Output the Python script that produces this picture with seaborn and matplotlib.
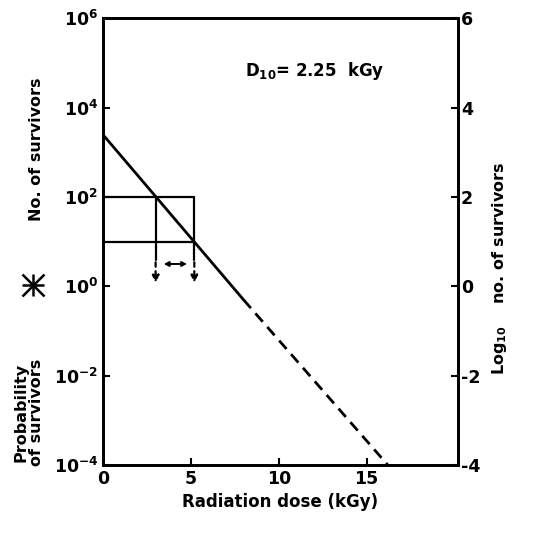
import numpy as np
import pandas as pd
import matplotlib
matplotlib.use("Agg")
import matplotlib.pyplot as plt
import seaborn as sns

# survival curve
dose_solid = [0.0, 8.0]
surv_solid = [2500.0, 0.5]
dose_dash = [8.0, 16.2]
surv_dash = [0.5, 1e-4]

# D10 construction (box + arrows)
box_doses = [3.0, 5.2]
box_levels = [100.0, 10.0]

x_ticks = [0, 5, 10, 15]
y_ticks = [1e-4, 1e-2, 1e0, 1e2, 1e4, 1e6]
y_ticklabels = ["$10^{-4}$", "$10^{-2}$", "$10^{0}$", "$10^{2}$", "$10^{4}$", "$10^{6}$"]
r_ticks = [-4, -2, 0, 2, 4, 6]
r_ticklabels = ["-4", "-2", "0", "2", "4", "6"]

sns.set_style("ticks")
plt.rcParams["font.family"] = ["DejaVu Sans"]
plt.rcParams["font.weight"] = "bold"
plt.rcParams["mathtext.default"] = "bf"
plt.rcParams["text.color"] = "black"
plt.rcParams["axes.labelcolor"] = "black"
plt.rcParams["axes.edgecolor"] = "black"
plt.rcParams["xtick.color"] = "black"
plt.rcParams["ytick.color"] = "black"

solid = pd.DataFrame({"dose": dose_solid, "surv": surv_solid})
dash = pd.DataFrame({"dose": dose_dash, "surv": surv_dash})

fig = plt.figure(figsize=(5.5, 5.37), dpi=100)
ax = fig.add_axes([0.187, 0.134, 0.646, 0.832])

sns.lineplot(data=solid, x="dose", y="surv", color="black", lw=2, ax=ax)
sns.lineplot(data=dash, x="dose", y="surv", color="black", lw=2, ax=ax)
ax.lines[-1].set_linestyle((0, (4, 2.5)))

ax.set_yscale("log")
ax.set_xlim(0, 20.2)
ax.set_ylim(1e-4, 1e6)

# box
for lvl in box_levels:
    ax.plot([0, box_doses[1]], [lvl, lvl], color="black", lw=1.6)
for d in box_doses:
    ax.plot([d, d], [box_levels[0], 10 ** 0.6], color="black", lw=1.6)
    ax.annotate("", xy=(d, 10 ** 0.02), xytext=(d, 10 ** 0.6),
                arrowprops=dict(arrowstyle="-|>", color="black", lw=1.6,
                                linestyle=(0, (2, 2)), mutation_scale=10))
ax.annotate("", xy=(box_doses[0] + 0.3, 10 ** 0.5), xytext=(box_doses[1] - 0.25, 10 ** 0.5),
            arrowprops=dict(arrowstyle="<|-|>", color="black", lw=1.4, mutation_scale=7))

ax.set_xticks(x_ticks)
ax.set_xticklabels([str(t) for t in x_ticks])
ax.set_yticks(y_ticks)
ax.set_yticklabels(y_ticklabels)
ax.yaxis.set_minor_locator(matplotlib.ticker.NullLocator())
ax.tick_params(direction="in", length=5, width=1.5, labelsize=12.5)
ax.set_xlabel("Radiation dose (kGy)", fontsize=12, fontweight="bold", labelpad=4)
ax.set_ylabel("")

for s in ax.spines.values():
    s.set_linewidth(2)
    s.set_visible(True)

ax2 = ax.twinx()
ax2.set_ylim(-4, 6)
ax2.set_yticks(r_ticks)
ax2.set_yticklabels(r_ticklabels)
ax2.tick_params(direction="in", length=5, width=1.5, labelsize=12.5, pad=2)
for s in ax2.spines.values():
    s.set_linewidth(2)

ax.text(0.4, 0.87, "D$_{10}$= 2.25  kGy", transform=ax.transAxes, fontsize=12)

# left-side labels
fig.text(0.066, 1 - 149 / 537, "No. of survivors", rotation=90, ha="center", va="center", fontsize=11.5)
fig.text(0.052, 1 - 412 / 537, "Probability\nof survivors", rotation=90, ha="center", va="center",
         fontsize=11.5, linespacing=1.0)
fig.text(0.908, 1 - 268 / 537, "Log$_{10}$    no. of survivors", rotation=90, ha="center", va="center",
         fontsize=11.5)

# star symbol
for m in ["+", "x"]:
    fig.lines.append(matplotlib.lines.Line2D([0.06], [1 - 285 / 537], marker=m, markersize=16,
                                             markeredgewidth=1.8, color="black",
                                             transform=fig.transFigure))

fig.savefig("out.png", dpi=100)
